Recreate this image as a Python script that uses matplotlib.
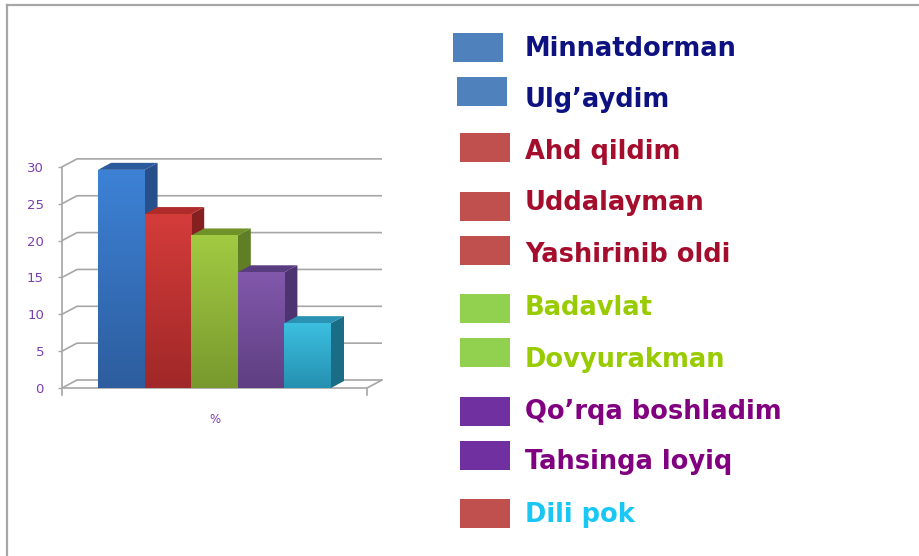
import matplotlib
matplotlib.use("Agg")
import matplotlib.pyplot as plt
import numpy as np
from matplotlib.patches import Polygon, Rectangle
from matplotlib.lines import Line2D
from matplotlib.colors import LinearSegmentedColormap

# данные
series_values = [29.6, 23.6, 20.7, 15.7, 8.8]
category = "%"
y_ticks = [0, 5, 10, 15, 20, 25, 30]

# цвета столбиков: (верх грани, низ грани, бок, крышка)
bar_colors = [
    ("#3d82d6", "#2d5d9e", "#27508a", "#2b5b9c"),
    ("#d43c3a", "#a02828", "#862020", "#b02c2b"),
    ("#a2ca42", "#78992e", "#5f7e25", "#6f9229"),
    ("#8158ab", "#5f3f82", "#4d3470", "#5a3d80"),
    ("#3cbfe0", "#2590b0", "#1b6d87", "#2a92b2"),
]

legend_labels = ["Minnatdorman", "Ulg\u2019aydim", "Ahd qildim", "Uddalayman",
                 "Yashirinib oldi", "Badavlat", "Dovyurakman",
                 "Qo\u2019rqa boshladim", "Tahsinga loyiq", "Dili pok"]
legend_box_colors = ["#4f81bd", "#4f81bd", "#c0504d", "#c0504d", "#c0504d",
                     "#92d050", "#92d050", "#7030a0", "#7030a0", "#c0504d"]
legend_text_colors = ["#0d1280", "#0d1280", "#a50d2d", "#a50d2d", "#a50d2d",
                      "#99cc00", "#99cc00", "#800080", "#800080", "#19c7f5"]

W, H = 919, 556
fig = plt.figure(figsize=(W / 100, H / 100), dpi=100)

def fx(px):
    return px / W

def fy(py):
    return 1 - py / H

# рамка (только сверху и слева)
fig.add_artist(Line2D([fx(7), fx(919)], [fy(5), fy(5)], color="#a6a6a6", lw=1.6))
fig.add_artist(Line2D([fx(7), fx(7)], [fy(5), fy(556)], color="#a6a6a6", lw=1.6))

# оси графика
ax_l, ax_r, ax_t, ax_b = 62, 390, 150, 396
ax = fig.add_axes([fx(ax_l), fy(ax_b), (ax_r - ax_l) / W, (ax_b - ax_t) / H])
ppx = 46.6   # пикселей на единицу по x
ppy = 7.37   # пикселей на единицу по y
x0 = (ax_l - 98) / ppx
y0 = -(ax_b - 388) / ppy

n = len(series_values)
x_front_r = n - x0
dxw, dyw = 15 / ppx, 8 / ppy
dxb, dyb = 13 / ppx, 7 / ppy
grid_c = "#a6a6a6"

# задняя стенка / сетка
for v in y_ticks:
    ax.plot([x0, x0 + dxw, x_front_r + dxw], [v, v + dyw, v + dyw],
            color=grid_c, lw=1.2, zorder=1, solid_capstyle="butt")
ax.plot([x0, x_front_r, x_front_r + dxw], [0, 0, dyw], color=grid_c, lw=1.2, zorder=1)
ax.plot([x_front_r, x_front_r], [0, -0.95], color=grid_c, lw=1.2, zorder=1)

# 3D столбики
for i, v in enumerate(series_values):
    top_c, bot_c, side_c, cap_c = bar_colors[i]
    z = 3 + i * 3
    xl, xr = i, i + 1
    side = Polygon([(xr, 0), (xr + dxb, dyb), (xr + dxb, v + dyb), (xr, v)],
                   closed=True, fc=side_c, ec="none", zorder=z)
    cap = Polygon([(xl, v), (xl + dxb, v + dyb), (xr + dxb, v + dyb), (xr, v)],
                  closed=True, fc=cap_c, ec="none", zorder=z)
    ax.add_patch(side)
    ax.add_patch(cap)
    b = ax.bar(xl, v, width=1, align="edge", color=bot_c, zorder=z + 1)[0]
    cmap = LinearSegmentedColormap.from_list("g%d" % i, [bot_c, top_c])
    grad = np.linspace(0, 1, 100).reshape(-1, 1)
    im = ax.imshow(grad, extent=[xl, xr, 0, v], origin="lower", aspect="auto",
                   cmap=cmap, zorder=z + 2)
    im.set_clip_path(b)

ax.set_xlim(x0, x0 + (ax_r - ax_l) / ppx)
ax.set_ylim(y0, y0 + (ax_b - ax_t) / ppy)

# оформление осей
for s in ["top", "right", "bottom"]:
    ax.spines[s].set_visible(False)
ax.spines["left"].set_color(grid_c)
ax.spines["left"].set_linewidth(1.2)
ax.spines["left"].set_bounds(-0.95, 30)
ax.set_yticks(y_ticks)
ax.set_yticklabels([str(t) for t in y_ticks])
ax.tick_params(axis="y", length=3, width=1.0, color=grid_c, pad=10,
               labelsize=9.5, labelcolor="#7b3fb0")
ax.set_xticks([n / 2])
ax.set_xticklabels([category])
ax.tick_params(axis="x", length=0, pad=12, labelsize=8.5, labelcolor="#7b3fb0")
ax.patch.set_alpha(0)

# легенда
box_x = [453, 457, 460, 460, 460, 460, 460, 460, 460, 460]
box_top = [33, 77, 133, 192, 236, 294, 338, 397, 441, 499]
baselines = [56, 107, 159, 210, 262, 315, 367, 419, 469, 522]
for i, lab in enumerate(legend_labels):
    fig.add_artist(Rectangle((fx(box_x[i]), fy(box_top[i] + 29)), 50 / W, 29 / H,
                             transform=fig.transFigure, fc=legend_box_colors[i],
                             ec="none"))
    fig.text(fx(525), fy(baselines[i]), lab, color=legend_text_colors[i],
             fontsize=18.5, fontweight="bold", family="DejaVu Sans",
             va="baseline", ha="left")

fig.savefig("out.png", dpi=100)
